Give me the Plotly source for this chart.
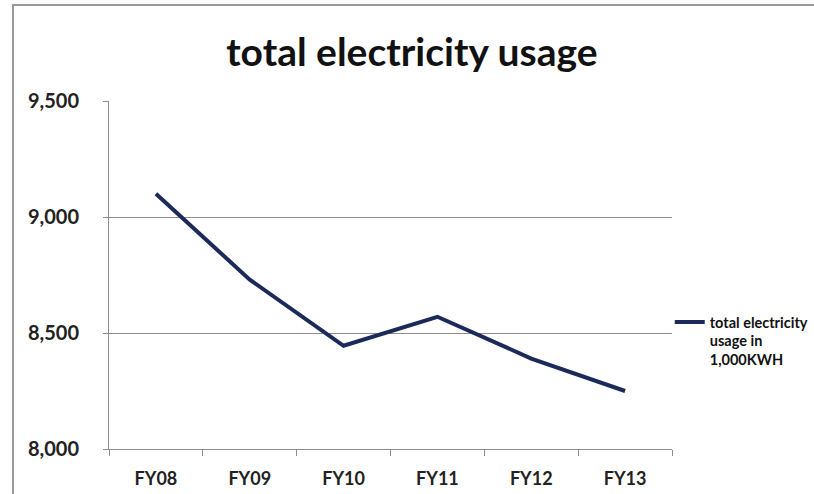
import plotly.graph_objects as go

categories = ["FY08", "FY09", "FY10", "FY11", "FY12", "FY13"]
usage = [9100, 8730, 8445, 8570, 8390, 8250]
series_name = "total electricity<br>usage in<br>1,000KWH"
title_text = "total electricity usage"

W, H = 814, 494
L, R, T, B = 109, 142, 101, 45
pw = W - L - R
ph = H - T - B

fig = go.Figure()
fig.add_trace(go.Scatter(
    x=categories, y=usage, mode="lines", name="<b>" + series_name.replace("<br>", "</b><br><b>") + "</b>",
    line=dict(color="#1c2a5a", width=4),
))

font_family = "Lato, 'Open Sans', sans-serif"

fig.update_layout(
    width=W, height=H,
    margin=dict(l=L, r=R, t=T, b=B, autoexpand=False),
    paper_bgcolor="white", plot_bgcolor="white",
    title=dict(text="<b>" + title_text + "</b>", x=0.506, xref="container", xanchor="center",
               y=1 - 52 / H, yref="container", yanchor="middle",
               font=dict(family=font_family, size=39, color="#111")),
    showlegend=True,
    legend=dict(x=0.996, xanchor="left", y=(ph - (321 - T) + 15) / ph, yanchor="top",
                valign="top", font=dict(family=font_family, size=14.5, color="#111"),
                bgcolor="rgba(0,0,0,0)", itemwidth=30, tracegroupgap=0),
    font=dict(family=font_family, color="#222"),
)

fig.update_yaxes(
    range=[8000, 9500], dtick=500, tickformat=",d", automargin=False,
    showgrid=True, gridcolor="#8c8c8c", gridwidth=1,
    showline=True, linecolor="#8c8c8c", linewidth=1,
    ticks="outside", ticklen=5, tickcolor="#8c8c8c",
    ticklabelstandoff=20,
    tickfont=dict(family=font_family, size=20, color="#222"),
    zeroline=False,
)
fig.update_xaxes(
    range=[-0.5, 5.5], automargin=False,
    showgrid=False, showline=True, linecolor="#8c8c8c", linewidth=1,
    ticks="outside", ticklen=6, tickcolor="#8c8c8c", tickson="boundaries",
    ticklabelstandoff=13,
    tickfont=dict(family=font_family, size=18, color="#222"),
)
fig.update_xaxes(tickprefix="<b>", ticksuffix="</b>")
fig.update_yaxes(tickprefix="<b>", ticksuffix="</b>")

# outer chart frame (top and left edges visible)
fig.add_shape(type="rect", xref="paper", yref="paper",
              x0=(13 - L) / pw, x1=1.6, y0=-0.5, y1=1 + (T - 5) / ph,
              line=dict(color="#9a9a9a", width=2), fillcolor="rgba(0,0,0,0)", layer="below")

fig.write_html("out.html")
